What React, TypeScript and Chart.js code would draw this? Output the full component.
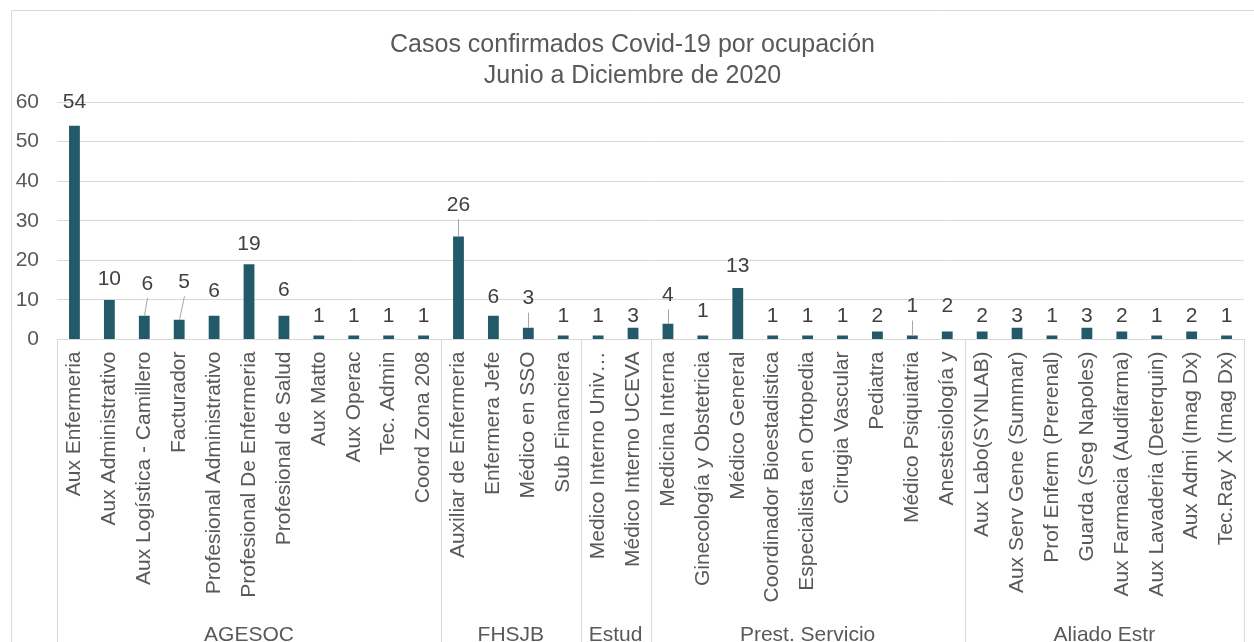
import React, { useEffect, useRef } from "react";
import { Chart, registerables } from "chart.js";

Chart.register(...registerables);

const FONT = '"Liberation Sans", Arial, Helvetica, sans-serif';

const titleLines = ["Casos confirmados Covid-19 por ocupación", "Junio a Diciembre de 2020"];

const categories = [
  "Aux Enfermeria",
  "Aux Administrativo",
  "Aux Logística - Camillero",
  "Facturador",
  "Profesional Administrativo",
  "Profesional De Enfermeria",
  "Profesional de Salud",
  "Aux Matto",
  "Aux Operac",
  "Tec. Admin",
  "Coord Zona 208",
  "Auxiliar de Enfermeria",
  "Enfermera Jefe",
  "Médico en SSO",
  "Sub Financiera",
  "Medico Interno Univ…",
  "Médico Interno UCEVA",
  "Medicina Interna",
  "Ginecología y Obstetricia",
  "Médico General",
  "Coordinador Bioestadistica",
  "Especialista en Ortopedia",
  "Cirugia Vascular",
  "Pediatra",
  "Médico Psiquiatria",
  "Anestesiología y",
  "Aux Labo(SYNLAB)",
  "Aux Serv Gene (Summar)",
  "Prof Enferm (Prerenal)",
  "Guarda (Seg Napoles)",
  "Aux Farmacia (Audifarma)",
  "Aux Lavaderia (Deterquin)",
  "Aux Admi (Imag Dx)",
  "Tec.Ray X (Imag Dx)",
];

const values = [
  54, 10, 6, 5, 6, 19, 6, 1, 1, 1, 1,
  26, 6, 3, 1,
  1, 3,
  4, 1, 13, 1, 1, 1, 2, 1, 2,
  2, 3, 1, 3, 2, 1, 2, 1,
];

const groupNames = ["AGESOC", "FHSJB", "Estud", "Prest. Servicio", "Aliado Estr"];
const groupSizes = [11, 4, 2, 9, 8];

const yMin = 0;
const yMax = 60;
const yStep = 10;

// label placement tweaks (pixels above bar top), styling only
const defaultLift = 20;
const labelLift: Record<number, number> = {
  0: 24.5, 1: 22, 2: 33, 3: 38.5, 4: 25.5, 5: 21.5, 6: 27,
  11: 32.5, 12: 19.5, 13: 30, 16: 12, 17: 29.5, 18: 25, 19: 22.5,
  23: 16, 24: 30, 25: 26.5, 26: 16.5, 27: 12.5, 29: 12.5, 30: 16.5, 32: 16.5,
};
const labelDx: Record<number, number> = { 2: 3, 3: 5 };
const leaderIdx = [2, 3, 11, 13, 17, 24];

const GRID = "#D9D9D9";
const TEXT = "#595959";
const BAR = "#225A69";

const decorPlugin = {
  id: "decor",
  beforeDraw(chart: any) {
    const ctx = chart.ctx;
    ctx.save();
    ctx.fillStyle = "#ffffff";
    ctx.fillRect(0, 0, chart.width, chart.height);
    ctx.strokeStyle = GRID;
    ctx.lineWidth = 1;
    ctx.beginPath();
    ctx.moveTo(11.5, chart.height);
    ctx.lineTo(11.5, 10.5);
    ctx.lineTo(chart.width, 10.5);
    ctx.stroke();
    // title
    ctx.font = `25px ${FONT}`;
    ctx.fillStyle = TEXT;
    ctx.textAlign = "center";
    ctx.textBaseline = "middle";
    titleLines.forEach((t, i) => ctx.fillText(t, 632.5, 45 + i * 31));
    ctx.restore();
  },
  afterDatasetsDraw(chart: any) {
    const ctx = chart.ctx;
    const meta = chart.getDatasetMeta(0);
    ctx.save();
    ctx.font = `21px ${FONT}`;
    ctx.fillStyle = "#404040";
    ctx.textAlign = "center";
    ctx.textBaseline = "middle";
    meta.data.forEach((bar: any, i: number) => {
      const lift = labelLift[i] ?? defaultLift;
      const cx = bar.x + (labelDx[i] ?? 0);
      const cy = bar.y - lift;
      ctx.fillText(String(values[i]), cx, cy + 1);
      if (leaderIdx.includes(i)) {
        ctx.strokeStyle = "#A6A6A6";
        ctx.lineWidth = 1;
        ctx.beginPath();
        ctx.moveTo(Math.round(cx) + 0.5, cy + 15);
        ctx.lineTo(Math.round(bar.x) + 0.5, bar.y);
        ctx.stroke();
      }
    });
    ctx.restore();
  },
  afterDraw(chart: any) {
    const ctx = chart.ctx;
    const xs = chart.scales.x;
    const area = chart.chartArea;
    ctx.save();
    ctx.strokeStyle = GRID;
    ctx.lineWidth = 1;
    ctx.font = `21px ${FONT}`;
    ctx.fillStyle = TEXT;
    ctx.textAlign = "center";
    ctx.textBaseline = "alphabetic";
    let start = 0;
    const edges: number[] = [area.left];
    groupSizes.forEach((n, g) => {
      const end = start + n;
      const right =
        end >= categories.length
          ? area.right
          : (xs.getPixelForValue(end - 1) + xs.getPixelForValue(end)) / 2;
      edges.push(right);
      const left = edges[g];
      ctx.fillText(groupNames[g], (left + right) / 2, 641);
      start = end;
    });
    edges.forEach((x) => {
      const px = Math.round(x) + 0.5;
      ctx.beginPath();
      ctx.moveTo(px, area.bottom);
      ctx.lineTo(px, chart.height);
      ctx.stroke();
    });
    ctx.restore();
  },
};

export default function App() {
  const ref = useRef<HTMLCanvasElement | null>(null);

  useEffect(() => {
    if (!ref.current) return;
    const chart = new Chart(ref.current, {
      type: "bar",
      data: {
        labels: categories,
        datasets: [
          {
            data: values,
            backgroundColor: BAR,
            borderWidth: 0,
            barPercentage: 1,
            categoryPercentage: 0.31,
          },
        ],
      },
      options: {
        responsive: false,
        animation: false,
        layout: { padding: { top: 102, left: 0, right: 10, bottom: 0 } },
        plugins: {
          legend: { display: false },
          tooltip: { enabled: false },
          title: { display: false },
        },
        scales: {
          x: {
            grid: { display: false },
            border: { display: true, color: GRID, width: 1 },
            ticks: {
              autoSkip: false,
              maxRotation: 90,
              minRotation: 90,
              padding: 4,
              color: TEXT,
              font: { family: FONT, size: 21 },
            },
            afterFit(scale: any) {
              scale.height = 302.5;
              scale.paddingLeft = 0;
              scale.paddingRight = 0;
            },
          },
          y: {
            min: yMin,
            max: yMax,
            ticks: {
              stepSize: yStep,
              padding: 18,
              color: TEXT,
              font: { family: FONT, size: 21 },
            },
            grid: { color: GRID, lineWidth: 1, drawTicks: false },
            border: { display: false },
            afterFit(scale: any) {
              scale.width = 57;
              scale.paddingTop = 0;
              scale.paddingBottom = 0;
            },
          },
        },
      },
      plugins: [decorPlugin],
    });
    return () => chart.destroy();
  }, []);

  return (
    <div style={{ position: "absolute", left: 0, top: 0, width: 1254, height: 642 }}>
      <canvas ref={ref} width={1254} height={642} style={{ display: "block" }} />
    </div>
  );
}
